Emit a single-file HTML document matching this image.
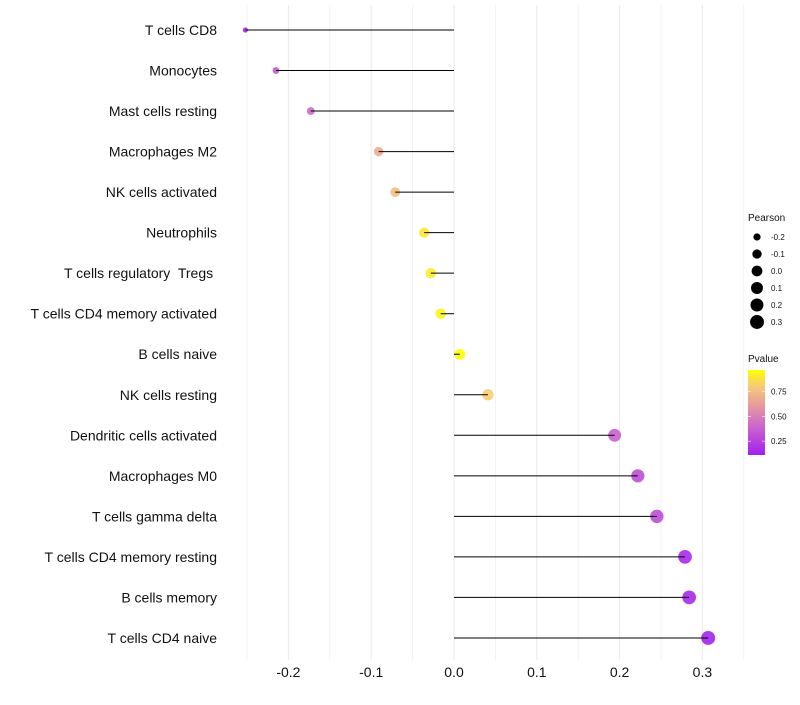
<!DOCTYPE html>
<html><head><meta charset="utf-8"><style>
body{margin:0;background:#fff;font-family:"Liberation Sans",sans-serif}
text{white-space:pre}
</style></head><body>
<svg id="c" width="800" height="700" xmlns="http://www.w3.org/2000/svg"></svg>
<script>
const categories=["T cells CD8","Monocytes","Mast cells resting","Macrophages M2","NK cells activated","Neutrophils","T cells regulatory  Tregs ","T cells CD4 memory activated","B cells naive","NK cells resting","Dendritic cells activated","Macrophages M0","T cells gamma delta","T cells CD4 memory resting","B cells memory","T cells CD4 naive"];
const pearson=[-0.252,-0.215,-0.173,-0.091,-0.071,-0.036,-0.028,-0.016,0.007,0.041,0.194,0.222,0.245,0.279,0.284,0.307];
const pvalue=[0.15,0.35,0.42,0.68,0.75,0.9,0.91,0.94,0.97,0.82,0.38,0.3,0.3,0.16,0.15,0.13];
const xTicks=[-0.2,-0.1,0.0,0.1,0.2,0.3];
const xTickLabels=["-0.2","-0.1","0.0","0.1","0.2","0.3"];
const sizeBreaks=[-0.2,-0.1,0.0,0.1,0.2,0.3];
const pBreaks=[0.25,0.5,0.75];

const svg=document.getElementById('c');const NS="http://www.w3.org/2000/svg";
const x=v=>454+v*828;
const y=i=>30+i*40.53;
const r=v=>2+5*Math.sqrt(Math.max(0,(v+0.26)/0.57));
const stops=[[0.11,[162,31,240]],[0.4,[204,102,204]],[0.6,[230,151,160]],[0.8,[246,200,122]],[0.97,[255,255,0]]];
function col(p){p=Math.max(0.11,Math.min(0.97,p));for(let k=0;k<stops.length-1;k++){const[a,c1]=stops[k],[b,c2]=stops[k+1];if(p<=b){const t=(p-a)/(b-a);return 'rgb('+c1.map((c,j)=>Math.round(c+(c2[j]-c)*t)).join(',')+')';}}return 'rgb(255,255,0)';}
function el(t,a,txt){const e=document.createElementNS(NS,t);for(const k in a)e.setAttribute(k,a[k]);if(txt!=null)e.textContent=txt;svg.appendChild(e);return e;}
for(let g=-0.25;g<=0.351;g+=0.05){const e=el('line',{x1:x(g),x2:x(g),y1:5,y2:660,stroke:'#ebebeb','stroke-width':Math.abs(Math.round(g*100))%10===0?1.1:0.6});

}
xTicks.forEach((v,i)=>{const t=el('text',{x:x(v),y:677,'text-anchor':'middle','font-size':14,fill:'#111'},xTickLabels[i]);

});
categories.forEach((c,i)=>{
const t=el('text',{x:217,y:y(i)+5,'text-anchor':'end','font-size':14,fill:'#111'},c);


const p=el('circle',{cx:x(pearson[i]),cy:y(i),r:r(pearson[i]),fill:col(pvalue[i]),'fill-opacity':0.9});


const l=el('line',{x1:x(0),x2:x(pearson[i]),y1:y(i),y2:y(i),stroke:'#000','stroke-width':1});


});
let t=el('text',{x:748,y:221,'font-size':10,fill:'#111'},'Pearson');


sizeBreaks.forEach((v,i)=>{const yy=237+i*17;
const c=el('circle',{cx:757,cy:yy,r:r(v),fill:'#000'});


const tt=el('text',{x:771,y:yy+3,'font-size':8,fill:'#111'},v.toFixed(1));

});
t=el('text',{x:748,y:362,'font-size':10,fill:'#111'},'Pvalue');


const defs=el('defs',{});const lg=document.createElementNS(NS,'linearGradient');lg.setAttribute('id','g');lg.setAttribute('x1','0');lg.setAttribute('y1','1');lg.setAttribute('x2','0');lg.setAttribute('y2','0');defs.appendChild(lg);
stops.forEach(s=>{const st=document.createElementNS(NS,'stop');st.setAttribute('offset',(s[0]-0.11)/0.86);st.setAttribute('stop-color','rgb('+s[1].join(',')+')');lg.appendChild(st);});
const bar=el('rect',{x:748,y:370,width:17,height:85,fill:'url(#g)'});


const py=p=>455-(p-0.11)/0.86*85;
pBreaks.forEach(p=>{el('line',{x1:748,x2:751,y1:py(p),y2:py(p),stroke:'#fff','stroke-width':0.6});el('line',{x1:762,x2:765,y1:py(p),y2:py(p),stroke:'#fff','stroke-width':0.6});
const tt=el('text',{x:771,y:py(p)+3,'font-size':8,fill:'#111'},p.toFixed(2));

});
</script>
</body></html>
